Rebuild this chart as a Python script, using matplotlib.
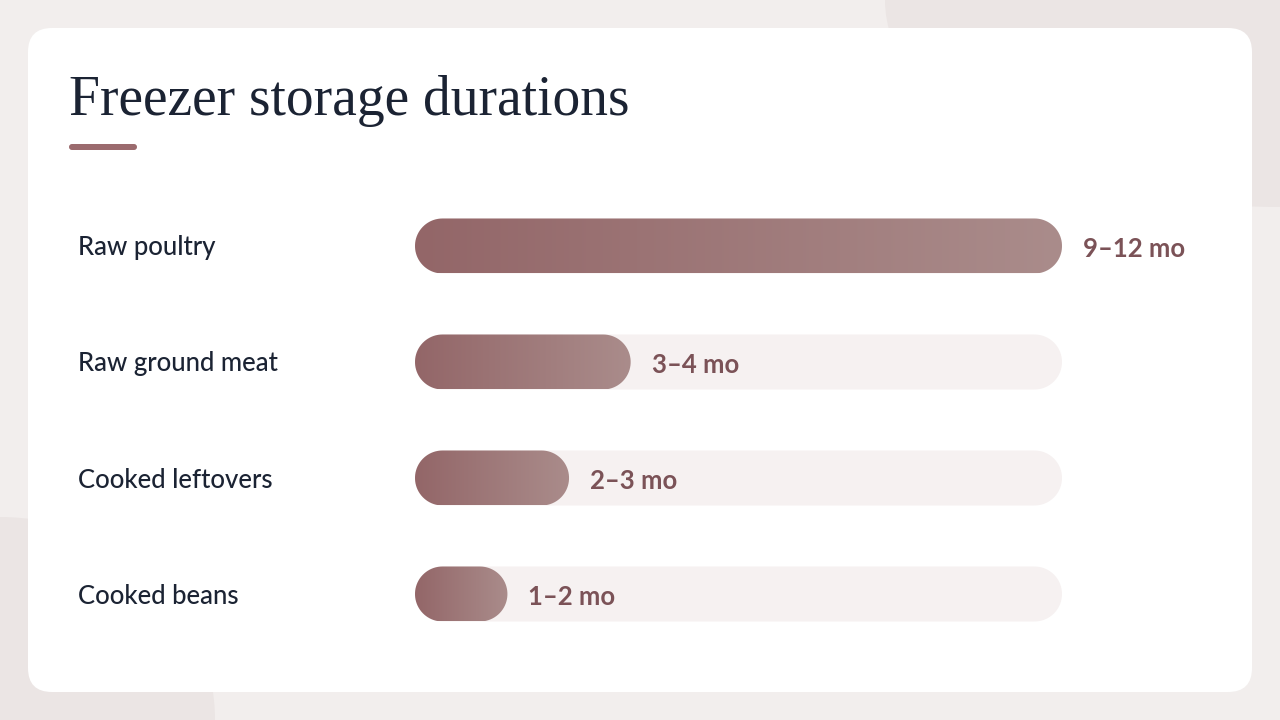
import numpy as np
import matplotlib
matplotlib.use("Agg")
import matplotlib.pyplot as plt
from matplotlib.patches import FancyBboxPatch, Ellipse, Polygon
from matplotlib.colors import LinearSegmentedColormap
from matplotlib.transforms import blended_transform_factory

# data: freezer storage ranges in months
items = ["Raw poultry", "Raw ground meat", "Cooked leftovers", "Cooked beans"]
low_months = [9, 3, 2, 1]
high_months = [12, 4, 3, 2]
mid_months = [(a + b) / 2 for a, b in zip(low_months, high_months)]
value_labels = [f"{a}\u2013{b} mo" for a, b in zip(low_months, high_months)]

W, H = 1280, 720
fig = plt.figure(figsize=(12.8, 7.2), dpi=100)
fig.patch.set_facecolor("#f2eeed")

# background layer in pixel units
bg = fig.add_axes([0, 0, 1, 1])
bg.set_xlim(0, W)
bg.set_ylim(H, 0)
bg.axis("off")
bg.add_patch(Ellipse((W, 0), 2 * 395, 2 * 207, fc="#ebe5e4", ec="none"))
bg.add_patch(Ellipse((0, H), 2 * 215, 2 * 203, fc="#ebe5e4", ec="none"))
bg.add_patch(FancyBboxPatch((28, 28), 1224, 664, boxstyle="round,pad=0,rounding_size=24",
                            fc="white", ec="none"))
bg.text(69, 115, "Freezer storage durations", family="Liberation Serif", fontsize=40,
        color="#1b2333", va="baseline", ha="left")
bg.add_patch(FancyBboxPatch((69, 144), 68, 6, boxstyle="round,pad=0,rounding_size=3",
                            fc="#9b6b6e", ec="none"))

# bar layer
bar_left, bar_w = 415, 647
row_h = 116
top = 188
ax = fig.add_axes([bar_left / W, (H - top - row_h * len(items)) / H,
                   bar_w / W, row_h * len(items) / H])
ax.set_zorder(2)
ax.patch.set_alpha(0)
ax.axis("off")
vmax = max(mid_months)
ax.set_xlim(0, vmax)
ax.set_ylim(len(items) - 0.5, -0.5)

xscale = bar_w / vmax
yscale = row_h
bar_h = 55 / row_h
rx = (bar_h / 2) * yscale / xscale  # x radius in data units so the caps are round in pixels
ry = bar_h / 2


def pill(x0, x1, yc):
    # capsule outline with semicircular ends, in data coordinates
    t = np.linspace(np.pi / 2, 3 * np.pi / 2, 40)
    left = np.column_stack([x0 + rx + rx * np.cos(t), yc + ry * np.sin(t)])
    t2 = np.linspace(-np.pi / 2, np.pi / 2, 40)
    right = np.column_stack([x1 - rx + rx * np.cos(t2), yc + ry * np.sin(t2)])
    return np.vstack([left, right])


cmap = LinearSegmentedColormap.from_list("bar", ["#936668", "#aa8c8b"])
grad = np.linspace(0, 1, 256).reshape(1, -1)

for i, (v, lbl) in enumerate(zip(mid_months, value_labels)):
    ax.add_patch(Polygon(pill(0, vmax, i), closed=True, fc="#f6f1f1", ec="none", zorder=1))
    bar = Polygon(pill(0, v, i), closed=True, fc="none", ec="none", zorder=2)
    ax.add_patch(bar)
    im = ax.imshow(grad, cmap=cmap, extent=(0, v, i + bar_h / 2, i - bar_h / 2),
                   aspect="auto", interpolation="bicubic", zorder=3)
    im.set_clip_path(bar)
    ax.annotate(lbl, xy=(v, i), xytext=(21, -3), textcoords="offset pixels",
                va="center", ha="left", fontsize=18.5, color="#7b5257",
                fontweight="bold", family="Lato")

ax.set_xlim(0, vmax)
ax.set_ylim(len(items) - 0.5, -0.5)

trans = blended_transform_factory(fig.transFigure, ax.transData)
for i, name in enumerate(items):
    ax.annotate(name, xy=(78 / W, i), xycoords=trans, xytext=(0, -2),
                textcoords="offset pixels", va="center", ha="left",
                fontsize=18.5, color="#1b2333", fontweight="medium", family="Lato")

fig.savefig("out.png", dpi=100, facecolor=fig.get_facecolor())
